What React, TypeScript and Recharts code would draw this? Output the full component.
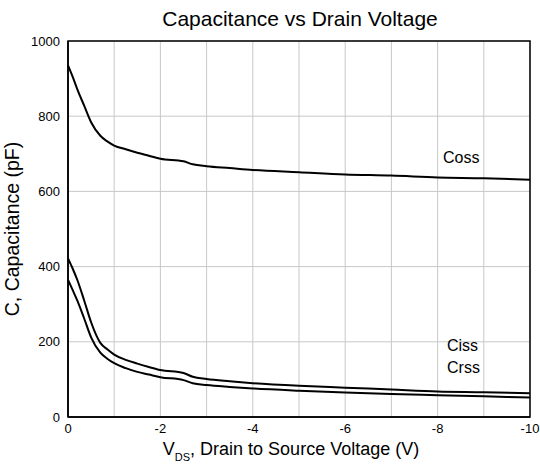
import React from 'react';
import { LineChart, Line, XAxis, YAxis, CartesianGrid, Label } from 'recharts';

const voltages = [0, -0.1, -0.2, -0.35, -0.5, -0.7, -0.85, -1, -1.25, -1.5, -1.75, -2, -2.5, -2.7, -3, -3.5, -4, -5, -6, -7, -8, -9, -10];
const coss = [935, 905, 872, 828, 784, 748, 733, 722, 712, 703, 695, 687, 680, 672, 667, 662, 657, 651, 645, 642, 637, 635, 631];
const ciss = [422, 395, 365, 310, 252, 197, 180, 166, 152, 142, 133, 125, 117, 107, 101, 95, 90, 83, 78, 73, 68, 66, 63];
const crss = [365, 338, 310, 262, 212, 171, 155, 143, 130, 120, 113, 106, 98, 90, 85, 80, 76, 70, 65, 61, 58, 55, 52];

const xTicks = [0, -1, -2, -3, -4, -5, -6, -7, -8, -9, -10];
const yTicks = [0, 200, 400, 600, 800, 1000];

const data = voltages.map((v, i) => ({ v, coss: coss[i], ciss: ciss[i], crss: crss[i] }));

const FONT = 'Arial, "Liberation Sans", Helvetica, sans-serif';

const XTick = (props: any) => {
  const { x, y, payload } = props;
  const val = payload && payload.value;
  if (val % 2 !== 0) return null;
  return (
    <text x={x} y={y + 8} textAnchor="middle" fontFamily={FONT} fontSize={13} fill="#000">
      {String(val)}
    </text>
  );
};

const XLabel = (props: any) => {
  const vb = props.viewBox || {};
  const cx = vb.x + vb.width / 2 - 8;
  return (
    <text x={cx} y={vb.y + 38} textAnchor="middle" fontFamily={FONT} fontSize={18} fill="#000">
      <tspan>V</tspan>
      <tspan fontSize={11} dy={6}>DS</tspan>
      <tspan dy={-6}>, Drain to Source Voltage (V)</tspan>
    </text>
  );
};

export default function App() {
  return (
    <div style={{ position: 'absolute', left: 0, top: 0, width: 540, height: 468, background: '#fff' }}>
      <LineChart width={540} height={468} data={data} margin={{ top: 41, right: 10, bottom: 0, left: 0 }}>
        <CartesianGrid stroke="#c8c8c8" strokeWidth={1} />
        <XAxis
          dataKey="v"
          type="number"
          domain={[-10, 0]}
          reversed
          ticks={xTicks}
          interval={0}
          tickLine={false}
          axisLine={{ stroke: '#000', strokeWidth: 1.5 }}
          tick={<XTick />}
          tickMargin={2}
          height={51}
        >
          <Label content={<XLabel />} />
        </XAxis>
        <YAxis
          type="number"
          domain={[0, 1000]}
          ticks={yTicks}
          interval={0}
          tickLine={false}
          axisLine={{ stroke: '#000', strokeWidth: 1.5 }}
          tick={{ fill: '#000', fontSize: 13, fontFamily: FONT }}
          width={68}
        >
          <Label
            value="C, Capacitance (pF)"
            angle={-90}
            position="insideLeft"
            offset={12}
            style={{ textAnchor: 'middle', fontSize: 19.5, fontFamily: FONT, fill: '#000' }}
          />
        </YAxis>
        <Line type="monotone" dataKey="coss" stroke="#000" strokeWidth={2} dot={false} isAnimationActive={false} />
        <Line type="monotone" dataKey="ciss" stroke="#000" strokeWidth={2} dot={false} isAnimationActive={false} />
        <Line type="monotone" dataKey="crss" stroke="#000" strokeWidth={2} dot={false} isAnimationActive={false} />
        <rect x={68} y={41} width={462} height={376} fill="none" stroke="#000" strokeWidth={1.5} />
        <text x={300} y={26} textAnchor="middle" fontFamily={FONT} fontSize={21} fill="#000">Capacitance vs Drain Voltage</text>
        <text x={443} y={163} fontFamily={FONT} fontSize={16} fill="#000">Coss</text>
        <text x={447} y={351} fontFamily={FONT} fontSize={16} fill="#000">Ciss</text>
        <text x={447} y={373} fontFamily={FONT} fontSize={16} fill="#000">Crss</text>
      </LineChart>
    </div>
  );
}
